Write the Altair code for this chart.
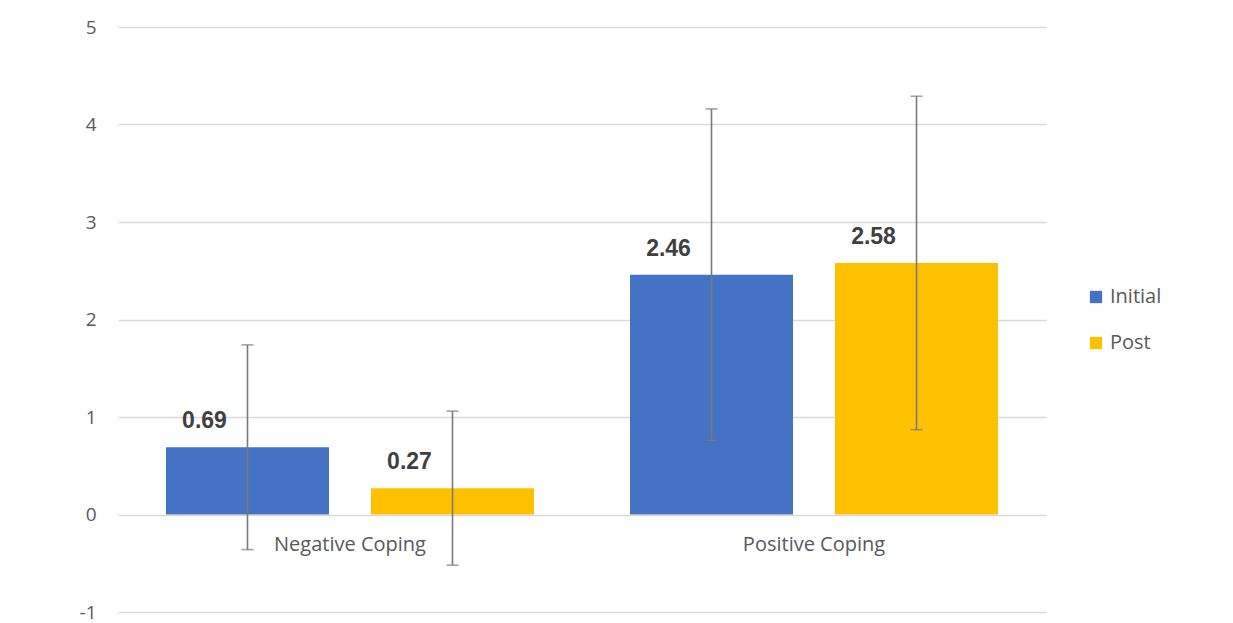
import altair as alt
import pandas as pd

categories = ["Negative Coping", "Positive Coping"]
groups = ["Initial", "Post"]
means = [[0.69, 0.27], [2.46, 2.58]]
sds = [[1.05, 0.79], [1.70, 1.71]]
colors = ["#4472C4", "#FFC000"]
y_ticks = [-1, 0, 1, 2, 3, 4, 5]

rows = []
for i, c in enumerate(categories):
    for j, g in enumerate(groups):
        rows.append({"category": c, "group": g, "mean": means[i][j],
                     "lo": round(means[i][j] - sds[i][j], 2),
                     "hi": round(means[i][j] + sds[i][j], 2),
                     "label": f"{means[i][j]:.2f}"})
df = pd.DataFrame(rows)
cat_df = pd.DataFrame({"category": categories, "zero": [0, 0]})

FONT = "Open Sans"
xscale = alt.Scale(domain=categories, paddingInner=0.2069, paddingOuter=0.1034)
xo_scale = alt.Scale(domain=groups, paddingInner=0.2049, paddingOuter=0)
yscale = alt.Scale(domain=[-1, 5], nice=False, zero=False)

x = alt.X("category:N", scale=xscale, axis=None)
xo = alt.XOffset("group:N", scale=xo_scale)

bars = alt.Chart(df).mark_bar(size=163).encode(
    x=x, xOffset=xo,
    y=alt.Y("mean:Q", scale=yscale,
            axis=alt.Axis(values=y_ticks, grid=True, gridColor="#d9d9d9",
                          gridWidth=1.3, domain=False, ticks=False, labelPadding=22,
                          labelExpr="toString(datum.value)",
                          labelFontSize=19, labelColor="#595959", labelFont=FONT, title=None)),
    y2=alt.Y2(datum=0),
    color=alt.Color("group:N", scale=alt.Scale(domain=groups, range=colors),
                    legend=alt.Legend(title=None, orient="none", legendX=968, legendY=260,
                                      symbolType="square", symbolSize=150, symbolStrokeWidth=0,
                                      labelFontSize=20, labelColor="#595959", labelFont=FONT,
                                      rowPadding=26, labelOffset=4)),
)

rules = alt.Chart(df).mark_rule(color="#7a7a7a", strokeWidth=1.6).encode(
    x=x, xOffset=xo, y=alt.Y("lo:Q", scale=yscale), y2="hi:Q")
cap_hi = alt.Chart(df).mark_tick(color="#7a7a7a", thickness=1.6, size=12, orient="horizontal").encode(
    x=x, xOffset=xo, y=alt.Y("hi:Q", scale=yscale))
cap_lo = alt.Chart(df).mark_tick(color="#7a7a7a", thickness=1.6, size=12, orient="horizontal").encode(
    x=x, xOffset=xo, y=alt.Y("lo:Q", scale=yscale))

labels = alt.Chart(df).mark_text(font="Liberation Sans", fontWeight="bold", fontSize=23,
                                 color="#404040", dx=-43, dy=-26, baseline="middle").encode(
    x=x, xOffset=xo, y=alt.Y("mean:Q", scale=yscale), text="label:N")

cat_labels = alt.Chart(cat_df).mark_text(font=FONT, fontSize=20, color="#595959",
                                         dy=30, baseline="middle").encode(
    x=x, y=alt.Y("zero:Q", scale=yscale), text="category:N")

chart = alt.layer(bars, rules, cap_hi, cap_lo, labels, cat_labels).properties(
    width=928, height=585,
    autosize=alt.AutoSizeParams(type="none"),
    padding={"left": 110, "top": 19, "right": 179, "bottom": 10},
).configure_view(stroke=None)

chart.save("out.html", embed_options={"renderer": "svg", "actions": False})
